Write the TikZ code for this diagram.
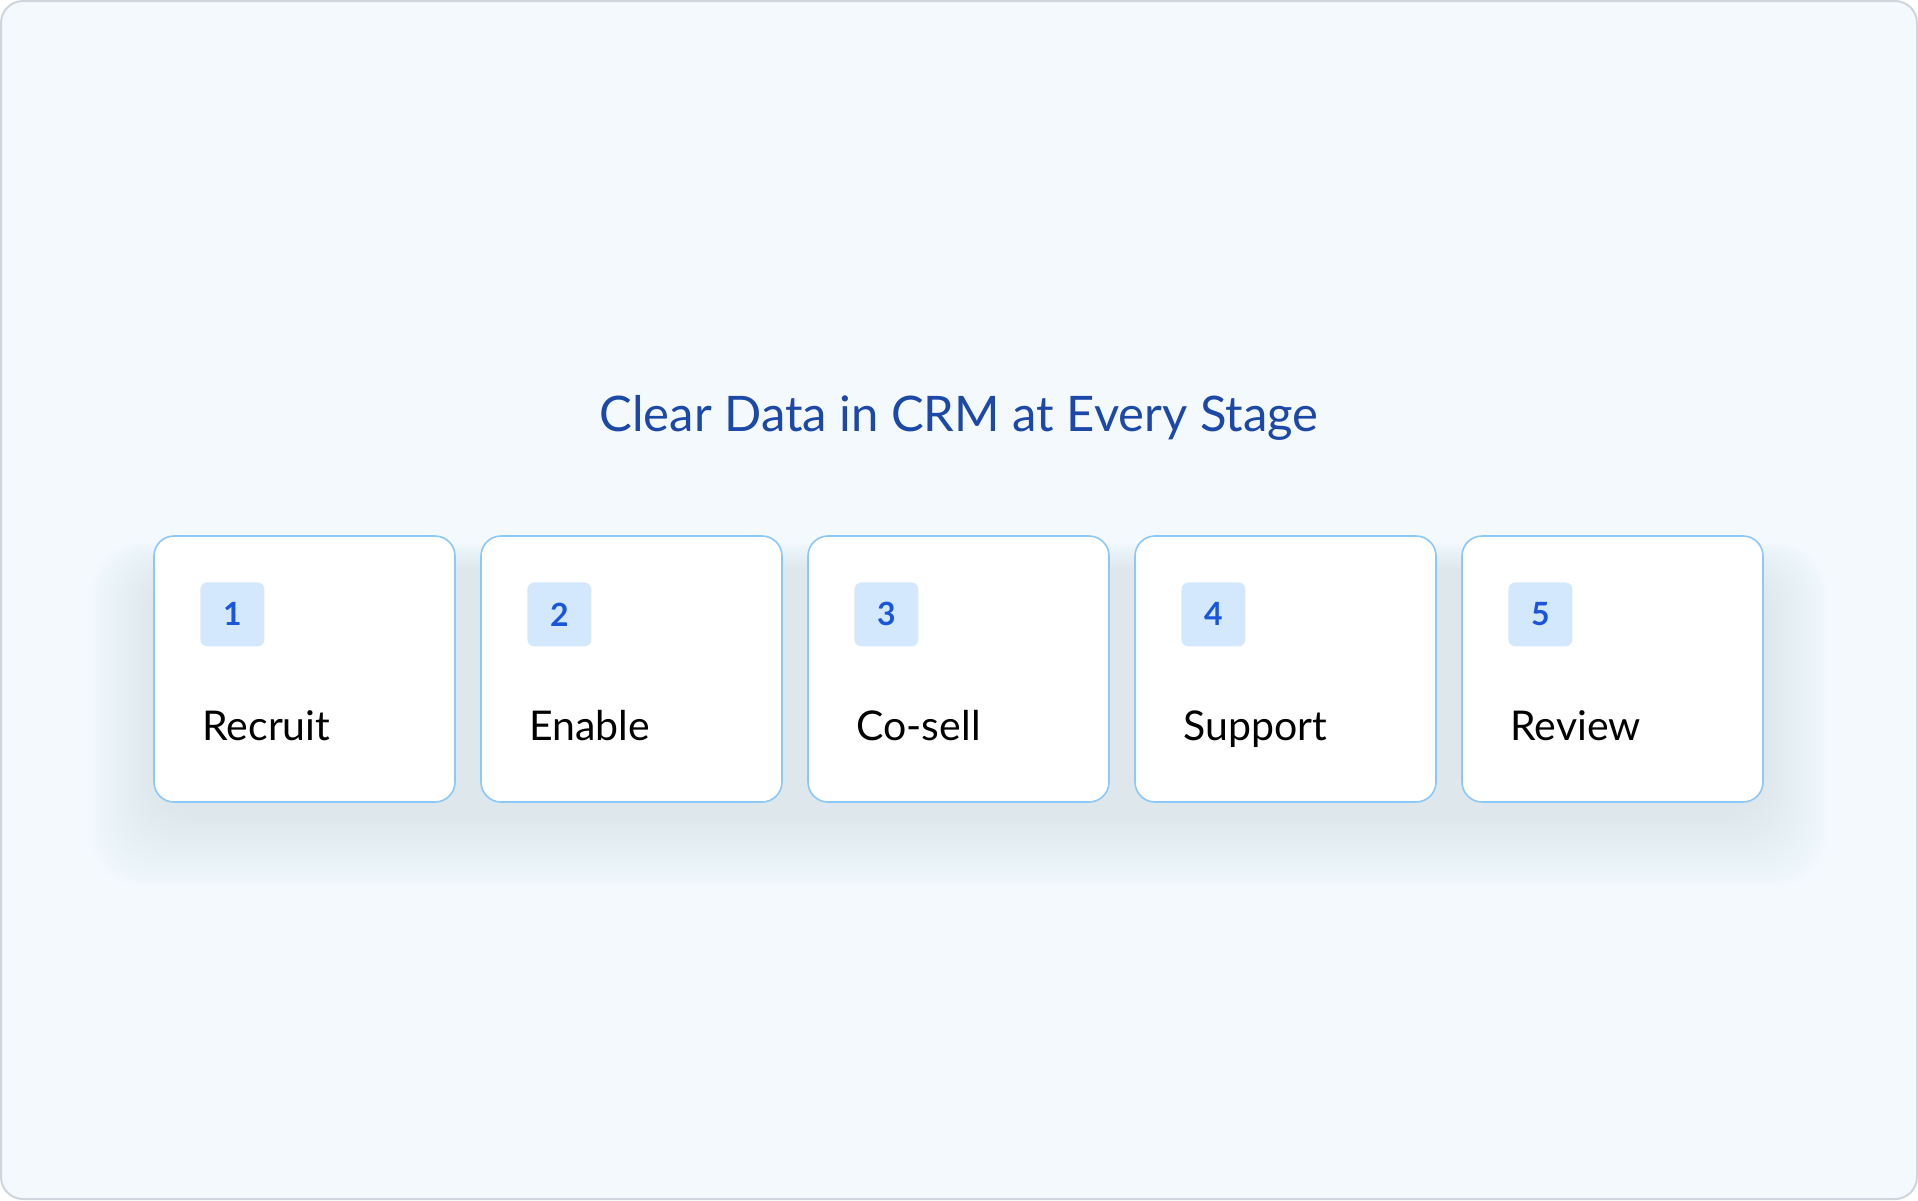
\documentclass[tikz,border=0pt]{standalone}
\usepackage{fontspec}
\setmainfont{Lato}
\definecolor{pagebg}{HTML}{F4F9FE}
\definecolor{pageline}{HTML}{D0D5DD}
\definecolor{cardline}{HTML}{8CC8F8}
\definecolor{badgefill}{HTML}{D3E8FD}
\definecolor{numblue}{HTML}{1A56DB}
\definecolor{titleblue}{HTML}{1C48A8}
\definecolor{glow}{HTML}{96AAE6}
\begin{document}
\begin{tikzpicture}[x=1pt,y=-1pt,
	card/.style={rounded corners=20pt,minimum width=301pt,minimum height=266pt,inner sep=0pt,draw=cardline,line width=1.6pt,fill=white},
	badge/.style={rounded corners=7pt,minimum size=64pt,inner sep=0pt,fill=badgefill,text=numblue,font=\fontsize{32}{32}\selectfont\bfseries,anchor=north west},
	stagetext/.style={inner sep=0pt,anchor=base west,font=\fontsize{41}{44}\selectfont}]

	\useasboundingbox (0,0) rectangle (1918,1200);
	\draw[fill=pagebg,draw=pageline,line width=2pt,rounded corners=22pt] (1,1) rectangle (1917,1199);

	\node[text=titleblue,font=\fontsize{49}{54}\selectfont,anchor=base] (title) at (959,431) {Clear Data in CRM at Every Stage};

	% soft shadow under the row of cards
	\foreach \k in {1,...,18}
		\fill[glow,opacity=0.011,rounded corners=50pt] (154-3.5*\k,570-1.5*\k) rectangle (1764+3.5*\k,815+4*\k);

	\foreach \i/\num/\txt in {1/1/Recruit,2/2/Enable,3/3/Co-sell,4/4/Support,5/5/Review}{
		\node[card] (card\i) at (304.5+327*\i-327,669) {};
		\node[badge] (badge\i) at ([xshift=47pt,yshift=-47pt]card\i.north west) {\num};
		\node[stagetext] (stage\i) at ([xshift=49pt,yshift=-205pt]card\i.north west) {\txt};
	}

\end{tikzpicture}
\end{document}
